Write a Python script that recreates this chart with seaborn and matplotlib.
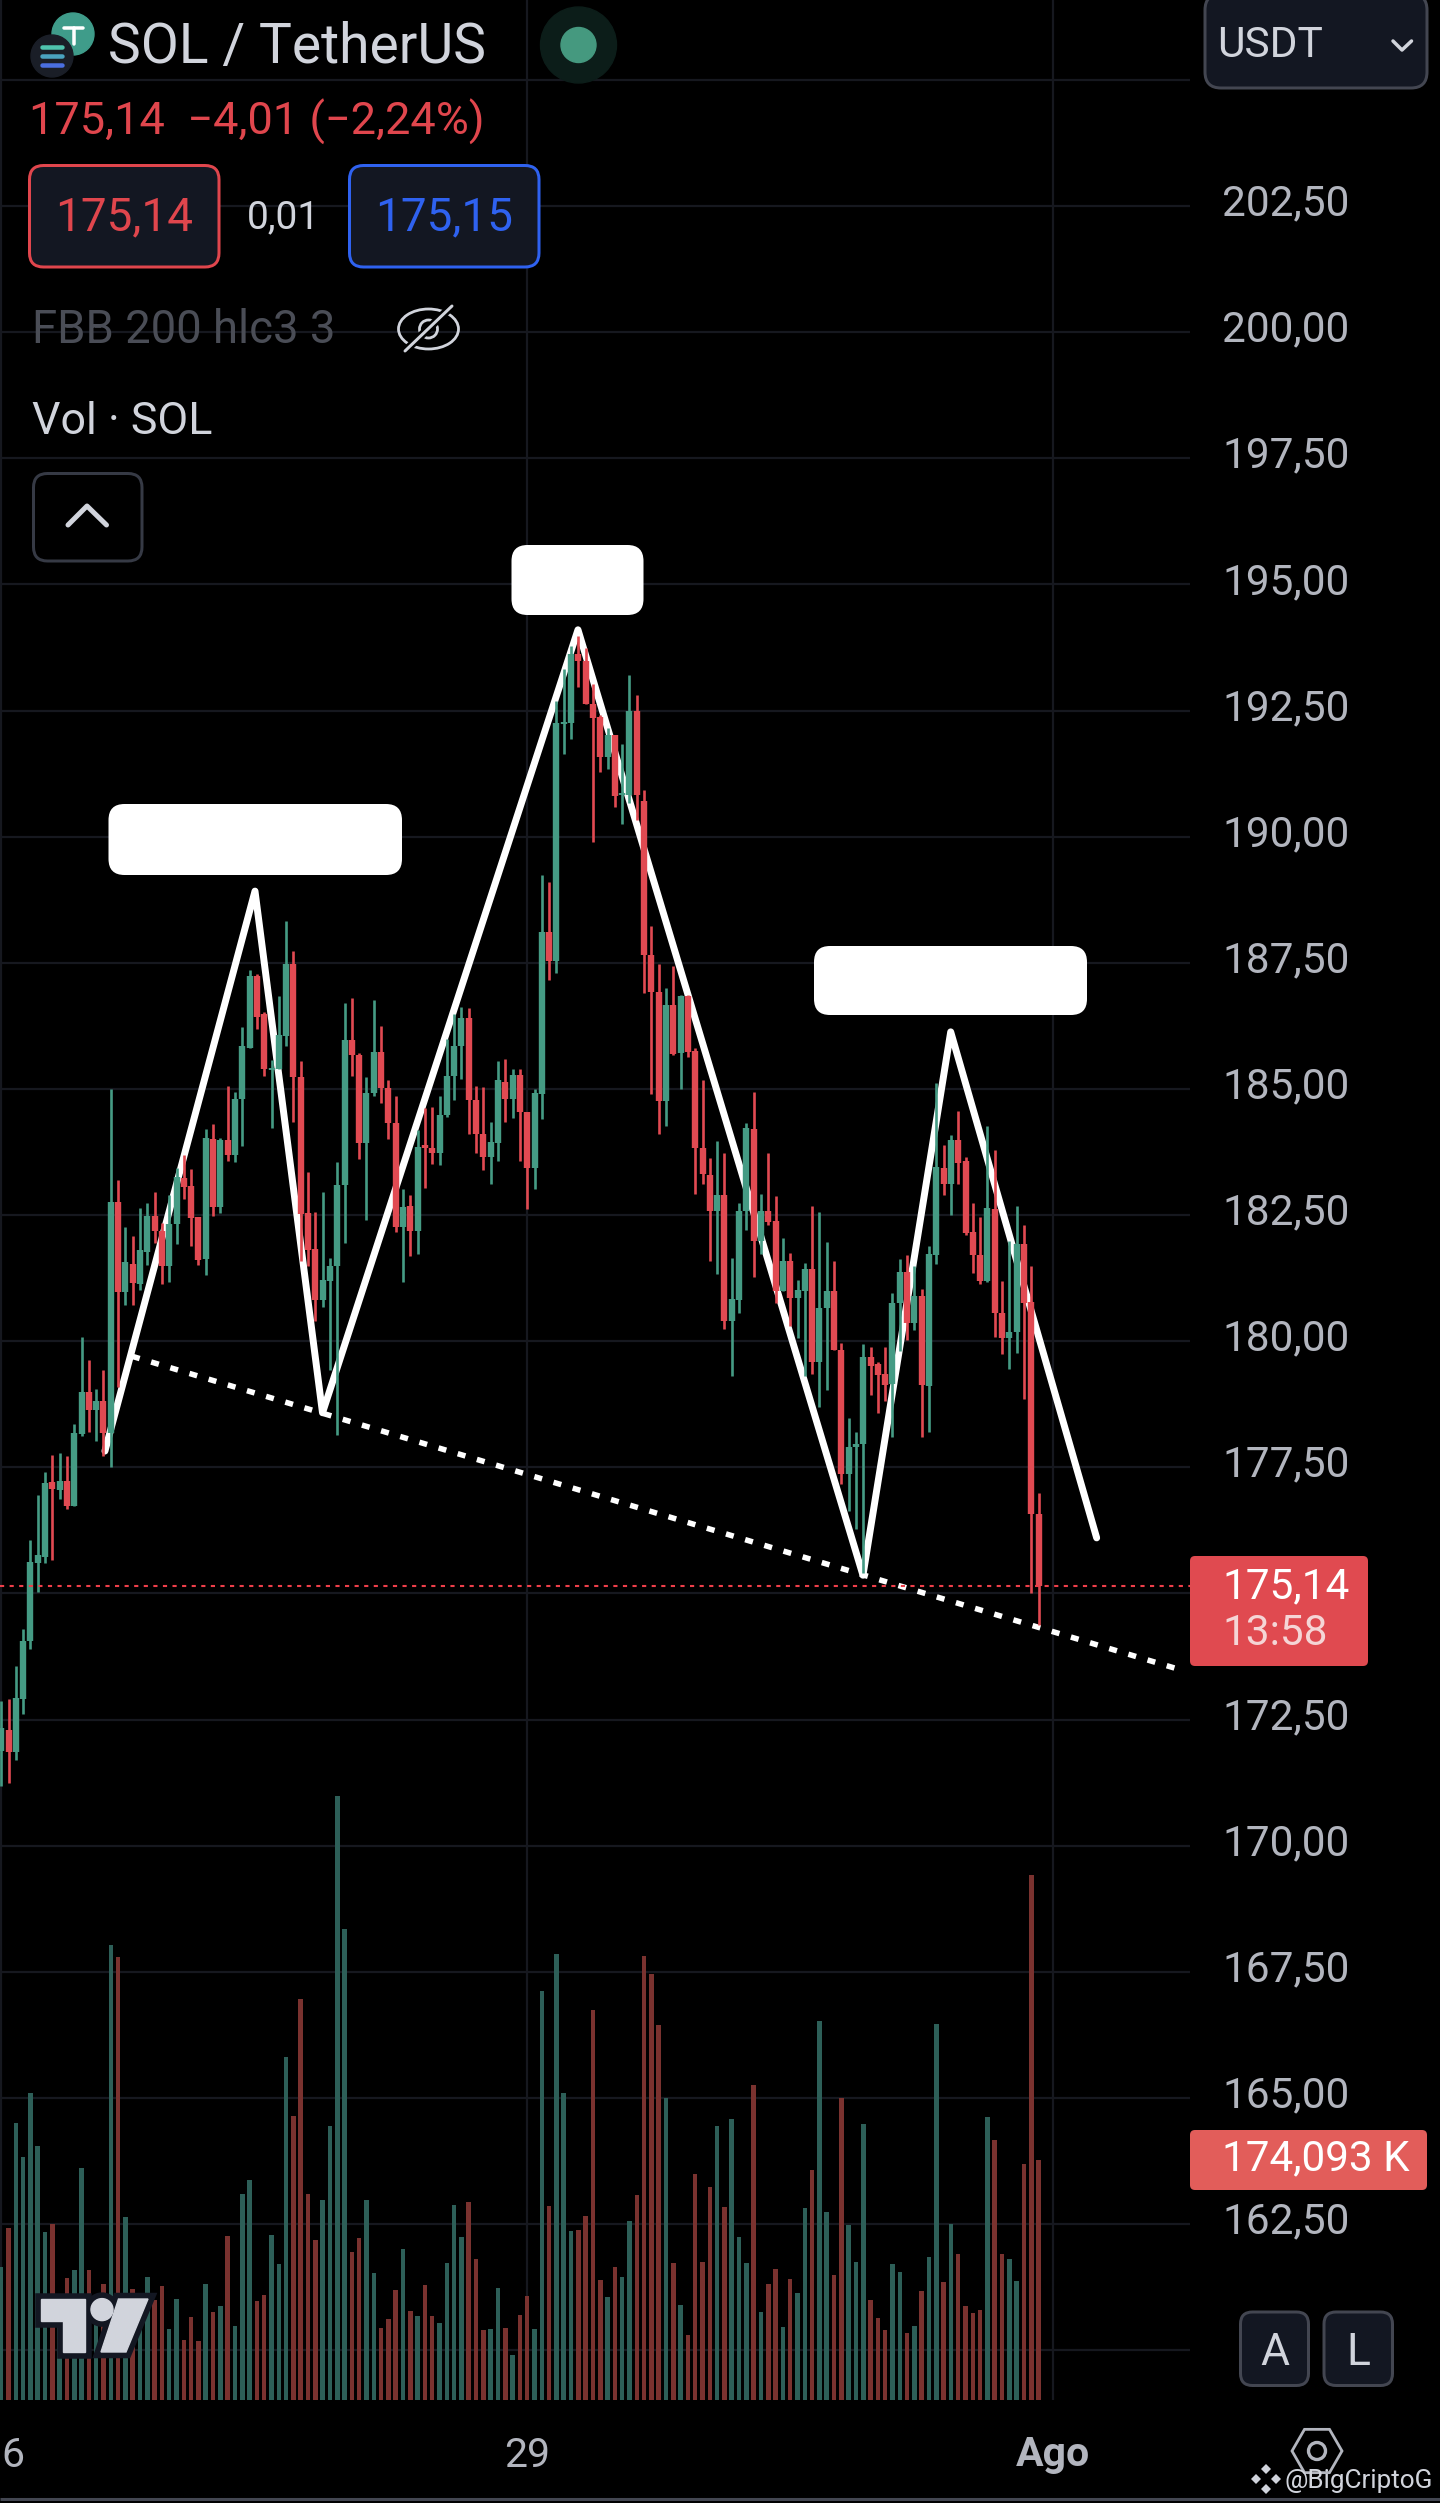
"""SOL / TetherUS 1h candles with volume, head and shoulders sketch on top."""
import matplotlib
matplotlib.use("Agg")
import matplotlib.pyplot as plt
import numpy as np
import pandas as pd
import seaborn as sns
from matplotlib.patches import Circle, Ellipse, FancyBboxPatch, Polygon, RegularPolygon
from matplotlib.transforms import ScaledTranslation

# candles, one per hour, index 0 sits on the "29" tick
bar_index = list(range(-72, 71))
opens = [
    171.87, 172.30, 171.85, 172.90, 174.06, 175.60, 175.72, 177.20, 177.05, 177.23, 176.74,
    178.16, 179.00, 178.64, 178.81, 178.18, 182.75, 180.97, 181.53, 181.14, 181.76, 182.48,
    182.19, 181.48, 182.33, 183.24, 183.07, 182.47, 181.63, 184.01, 182.65, 183.98, 183.69,
    184.80, 185.82, 187.24, 186.48, 185.37, 185.40, 186.05, 187.48, 185.23, 182.53, 181.82,
    180.82, 181.19, 181.48, 183.10, 185.97, 185.68, 183.92, 184.91, 185.74, 185.02, 184.32,
    182.27, 182.67, 182.18, 183.88, 183.82, 183.72, 184.49, 185.26, 185.85, 186.40, 184.77,
    184.11, 183.64, 183.92, 185.14, 184.80, 185.28, 184.55, 183.43, 184.90, 188.10, 187.53,
    192.24, 192.25, 193.62, 193.49, 192.62, 192.37, 191.58, 192.02, 190.82, 190.83, 192.49,
    190.70, 187.66, 186.93, 184.75, 186.66, 185.71, 186.84, 185.75, 183.83, 183.30, 182.57,
    182.90, 180.40, 180.81, 182.57, 184.20, 181.99, 182.57, 182.39, 181.00, 181.59, 180.86,
    181.00, 181.42, 179.58, 180.66, 181.00, 179.82, 177.36, 177.90, 177.96, 179.69, 179.54,
    179.34, 179.16, 180.75, 181.37, 180.35, 180.90, 179.12, 181.71, 183.43, 183.12, 183.98,
    183.57, 182.17, 181.71, 181.19, 182.61, 180.56, 180.07, 180.18, 181.93, 180.78, 176.58,
]
highs = [
    172.86, 172.90, 173.56, 174.30, 176.05, 176.95, 177.41, 177.75, 177.78, 177.73, 178.35,
    180.08, 179.62, 179.06, 179.43, 185.00, 183.20, 182.27, 182.08, 182.64, 182.73, 182.95,
    182.35, 182.90, 183.43, 183.69, 183.41, 182.47, 184.20, 184.30, 184.03, 185.06, 184.94,
    186.22, 187.36, 187.27, 186.53, 185.57, 186.85, 188.33, 187.73, 185.55, 183.35, 182.56,
    182.95, 181.65, 183.56, 186.70, 186.80, 185.72, 185.23, 186.76, 186.25, 185.17, 184.86,
    183.01, 182.90, 184.18, 184.63, 184.64, 184.86, 185.99, 186.48, 186.63, 186.61, 185.06,
    185.03, 184.34, 185.55, 185.59, 185.40, 185.40, 184.55, 185.00, 189.23, 189.10, 192.68,
    193.33, 193.77, 193.97, 193.73, 193.02, 192.41, 192.16, 192.02, 191.84, 193.21, 192.80,
    190.92, 188.23, 187.48, 187.00, 187.44, 186.86, 186.86, 185.82, 185.18, 183.63, 183.96,
    183.72, 181.64, 182.74, 184.32, 184.94, 182.92, 183.73, 182.88, 182.05, 181.75, 181.21,
    181.55, 182.67, 182.55, 181.97, 181.59, 179.97, 178.47, 178.19, 179.94, 179.89, 179.58,
    179.89, 180.95, 181.62, 181.71, 181.49, 181.04, 181.88, 185.11, 183.89, 184.09, 184.56,
    183.65, 182.74, 182.46, 184.27, 183.79, 181.19, 181.99, 182.68, 182.30, 181.49, 176.99,
]
lows = [
    171.19, 171.25, 171.70, 172.61, 173.89, 175.03, 175.60, 175.66, 176.88, 176.68, 176.74,
    178.11, 178.20, 178.03, 177.73, 177.50, 179.09, 180.72, 180.72, 181.02, 181.50, 181.95,
    181.14, 181.17, 181.93, 182.82, 181.88, 181.50, 181.31, 182.48, 182.53, 183.58, 183.55,
    183.86, 185.82, 186.19, 185.25, 184.23, 185.40, 185.85, 184.34, 181.59, 181.48, 180.40,
    180.68, 179.43, 178.13, 181.95, 185.26, 183.61, 182.41, 184.86, 184.72, 184.00, 182.16,
    181.18, 181.68, 181.73, 183.03, 183.52, 183.50, 184.45, 184.77, 185.20, 184.11, 183.72,
    183.39, 183.12, 183.58, 184.35, 184.43, 183.58, 182.61, 183.01, 184.41, 187.15, 187.30,
    191.64, 191.93, 192.97, 192.62, 189.89, 191.29, 191.35, 190.58, 190.26, 190.67, 190.32,
    186.91, 184.89, 184.10, 184.27, 185.67, 185.00, 185.64, 182.92, 183.11, 181.59, 181.33,
    180.25, 179.31, 180.56, 182.21, 181.27, 181.73, 182.30, 180.75, 181.00, 180.29, 180.07,
    179.31, 179.34, 178.70, 179.04, 179.82, 177.17, 176.64, 176.28, 175.40, 178.94, 178.58,
    178.82, 178.10, 179.81, 180.02, 180.22, 178.10, 178.20, 181.52, 182.89, 182.50, 183.12,
    182.10, 181.35, 181.13, 181.18, 180.09, 179.75, 179.45, 179.76, 178.85, 175.00, 174.38,
]
closes = [
    172.33, 171.85, 172.92, 174.06, 175.62, 175.76, 177.18, 177.07, 177.23, 176.73, 178.18,
    179.00, 178.64, 178.81, 178.18, 182.75, 180.97, 181.56, 181.16, 181.80, 182.48, 182.19,
    181.48, 182.33, 183.26, 183.05, 182.44, 181.61, 184.03, 182.65, 183.98, 183.69, 184.80,
    185.85, 187.24, 186.42, 185.40, 185.42, 186.06, 187.48, 185.23, 182.52, 181.80, 180.82,
    181.22, 181.48, 183.10, 185.97, 185.68, 183.92, 184.91, 185.74, 185.02, 184.32, 182.27,
    182.65, 182.18, 183.84, 183.83, 183.72, 184.49, 185.26, 185.85, 186.40, 184.77, 184.11,
    183.64, 183.94, 185.17, 184.80, 185.28, 184.55, 183.43, 184.91, 188.10, 187.53, 192.26,
    192.28, 193.62, 193.49, 192.62, 192.35, 191.58, 192.02, 190.80, 190.86, 192.49, 190.83,
    187.66, 186.93, 184.75, 186.66, 185.69, 186.84, 185.73, 183.82, 183.32, 182.57, 182.90,
    180.40, 180.84, 182.58, 184.23, 181.99, 182.57, 182.37, 181.00, 181.59, 180.86, 181.02,
    181.42, 179.58, 180.66, 181.00, 179.82, 177.36, 177.90, 177.96, 179.69, 179.51, 179.32,
    179.14, 180.75, 181.37, 180.35, 180.90, 179.14, 181.73, 183.45, 183.12, 183.98, 183.54,
    182.15, 181.71, 181.19, 182.63, 180.56, 180.07, 180.18, 181.93, 180.75, 176.57, 175.14,
]
# thousands of SOL, the last one is the 174,093 K of the label
volumes = [
    96.3, 124.7, 200.9, 176.3, 222.6, 184.1, 121.9, 127.5, 61.4, 88.4, 94.3,
    168.2, 94.3, 55.8, 84.3, 330.1, 321.4, 132.5, 80.4, 75.3, 89.3, 72.5,
    82.6, 51.6, 73.4, 43.8, 60.5, 42.7, 84.3, 63.9, 68.4, 119.1, 53.8,
    149.5, 159.9, 71.7, 76.2, 120.0, 98.5, 248.9, 205.9, 291.0, 149.5, 116.1,
    145.1, 198.9, 438.0, 341.8, 107.4, 117.2, 145.1, 92.1, 52.2, 58.6, 80.1,
    109.4, 64.7, 60.8, 83.7, 61.1, 55.8, 99.6, 141.5, 118.3, 143.7, 102.4,
    50.8, 51.6, 81.5, 52.2, 32.6, 61.9, 75.6, 51.6, 296.6, 140.6, 323.6,
    222.4, 122.8, 123.6, 133.4, 282.9, 87.0, 74.8, 96.8, 89.3, 129.5, 148.7,
    322.0, 309.1, 272.0, 219.0, 99.6, 69.2, 47.2, 164.1, 100.2, 154.6, 198.9,
    140.1, 203.7, 118.3, 99.3, 228.5, 63.9, 84.3, 94.9, 53.0, 87.6, 77.8,
    139.5, 166.8, 274.8, 136.4, 90.7, 219.0, 126.9, 100.4, 200.3, 72.5, 59.4,
    50.8, 98.5, 92.9, 48.5, 53.8, 79.0, 103.8, 272.9, 85.7, 127.5, 105.7,
    68.4, 63.1, 65.3, 205.3, 188.6, 105.7, 102.1, 86.2, 171.3, 380.8, 174.093,
]

# hand drawn pattern, in bar index / price
zigzag_bar = [-57.8, -37.26, -28.02, 6.95, 45.96, 57.97, 77.95]
zigzag_price = [177.82, 188.92, 178.58, 194.10, 175.36, 186.13, 176.10]
neckline_bar = [-54.1, 90.0]
neckline_price = [179.70, 173.46]

last_price = 175.14
price_ticks = [160 + 2.5 * n for n in range(19)]
price_labels = ["", "162,50", "165,00", "167,50", "170,00", "172,50", "", "177,50", "180,00",
                "182,50", "185,00", "187,50", "190,00", "192,50", "195,00", "197,50",
                "200,00", "202,50", ""]
date_ticks = [-72, 0, 72]
date_labels = ["6", "29", "Ago"]

UP = "#459b84"
DOWN = "#e14a52"
VOL_UP = "#2d5f58"
VOL_DOWN = "#7a322f"
TEXT = "#d1d4dc"
AXIS_TEXT = "#b2b5be"
PANEL = "#131722"
BORDER = "#434651"
GRID = "#16181f"

W, H = 1440, 2503
PLOT_R, PLOT_B = 1190, 2400

sns.set_theme(style="dark", rc={"axes.grid": False})
plt.rcParams["font.family"] = ["Roboto", "DejaVu Sans"]
plt.rcParams["lines.solid_capstyle"] = "butt"
plt.rcParams["axes.unicode_minus"] = False

df = pd.DataFrame({"bar": bar_index, "open": opens, "high": highs, "low": lows,
                   "close": closes, "volume": volumes})
df["dir"] = np.where(df["close"] >= df["open"], "up", "down")
palette = {"up": UP, "down": DOWN}
vol_palette = {"up": VOL_UP, "down": VOL_DOWN}

wicks = df.melt(id_vars=["bar", "dir"], value_vars=["low", "high"], value_name="price")
bodies = df.melt(id_vars=["bar", "dir"], value_vars=["open", "close"], value_name="price")

fig = plt.figure(figsize=(W / 100, H / 100), dpi=100, facecolor="black")
rect = [0, 1 - PLOT_B / H, PLOT_R / W, PLOT_B / H]

ax = fig.add_axes(rect, zorder=1, facecolor="black")
ax_vol = fig.add_axes(rect, zorder=2, facecolor="none", sharex=ax)

xlim = ((0 - 527.2) / 7.3056, (PLOT_R - 527.2) / 7.3056)

# volume pane: 240 px of bar is the 174,093 K of the last hour
sns.barplot(data=df, x="bar", y="volume", hue="dir", palette=vol_palette, native_scale=True,
            dodge=False, width=0.62, saturation=1, errorbar=None, legend=False,
            linewidth=0, ax=ax_vol)
ax_vol.set_ylim(0, PLOT_B * 174.093 / 240)
ax_vol.set_yticks([])
ax_vol.set_xlabel("")
ax_vol.set_ylabel("")
ax_vol.tick_params(labelbottom=False, length=0)
for s in ax_vol.spines.values():
    s.set_visible(False)

# the sketch goes under the candles
sns.lineplot(x=zigzag_bar, y=zigzag_price, sort=False, color="white", lw=5.0,
             solid_capstyle="round", solid_joinstyle="round", zorder=2, ax=ax)
sns.lineplot(x=neckline_bar, y=neckline_price, sort=False, color="white", lw=4.0,
             linestyle=(0, (1.45, 2.15)), zorder=2, ax=ax)

sns.lineplot(data=wicks, x="bar", y="price", units="bar", estimator=None, hue="dir",
             palette=palette, lw=1.9, sort=False, legend=False, zorder=3, ax=ax)
sns.lineplot(data=bodies, x="bar", y="price", units="bar", estimator=None, hue="dir",
             palette=palette, lw=4.6, sort=False, legend=False, zorder=3, ax=ax)

ax.axhline(last_price, color="#ee3f4a", lw=1.5, linestyle=(0, (2.0, 2.6)), zorder=3)

ax.set_xlim(*xlim)
ax.set_ylim(202.5 - (PLOT_B - 206) / 50.45, 202.5 + 206 / 50.45)
ax.set_xlabel("")
ax.set_ylabel("")
ax.yaxis.tick_right()
ax.set_yticks(price_ticks, price_labels)
ax.set_xticks(date_ticks, date_labels)
ax.tick_params(axis="y", length=0, pad=23, labelsize=30.5, labelcolor=AXIS_TEXT,
               labelright=True, labelleft=False)
ax.tick_params(axis="x", length=0, pad=25.8, labelsize=29.5, labelcolor=AXIS_TEXT, labelbottom=True)
ax.get_xticklabels()[0].set_ha("left")
ax.get_xticklabels()[2].set_fontweight("bold")
# price labels sit a little above their grid lines
lift = ScaledTranslation(0, 6.5 / 100, fig.dpi_scale_trans)
for tick in ax.yaxis.get_major_ticks():
    tick.label2.set_transform(tick.label2.get_transform() + lift)
ax.grid(True, color=GRID, lw=1.6, zorder=0)
ax.set_axisbelow(True)
for s in ax.spines.values():
    s.set_visible(False)

# everything else is the app's chrome, placed in screen pixels
ui = fig.add_axes([0, 0, 1, 1], zorder=3, facecolor="none")
ui.set_xlim(0, W)
ui.set_ylim(H, 0)
ui.axis("off")


def box(x0, y0, x1, y1, face, edge=None, lw=0.0, r=14):
    ui.add_patch(FancyBboxPatch((x0, y0), x1 - x0, y1 - y0,
                                boxstyle=f"round,pad=0,rounding_size={r}",
                                facecolor=face, edgecolor=edge or face, linewidth=lw * 0.72))


def label(x, y, s, size, color=TEXT, ha="left", **kw):
    ui.text(x, y, s, fontsize=size, color=color, ha=ha, va="baseline", **kw)


def stroke(xs, ys, color=TEXT, lw=3.0):
    ui.plot(xs, ys, color=color, lw=lw * 0.72, solid_capstyle="round", solid_joinstyle="round")


# header
ui.add_patch(Circle((73, 34), 21, color="#3f9c8a"))
stroke([64, 83], [28, 28], "white", 3.5)
stroke([74, 74], [28, 44], "white", 3.5)
ui.add_patch(Circle((52, 56), 21, color="#1a1e27"))
for yy, col in [(47, "#4fc3ad"), (56, "#4aa3c0"), (65, "#4a6fe0")]:
    stroke([42, 62], [yy, yy], col, 4.5)
label(108.5, 63, "SOL / TetherUS", 39.8)
ui.add_patch(Ellipse((578.5, 45), 76, 76, color="#0c1d19"))
ui.add_patch(Circle((578.5, 45), 17.5, color="#45997f"))
label(29, 134.5, "175,14  −4,01 (−2,24%)", 32.5, "#e0464d")

box(29.5, 165.5, 219, 267, PANEL, "#e0464d", 3)
label(124, 230, "175,14", 33, "#e0464d", ha="center")
label(283, 228.5, "0,01", 28, TEXT, ha="center")
box(349.5, 165.5, 539, 267, PANEL, "#2f62f0", 3)
label(444, 230, "175,15", 33, "#2f62f0", ha="center")

label(32, 343, "FBB 200 hlc3 3", 32.8, "#4a4d56")
ui.add_patch(Ellipse((428.5, 329), 60, 40, fill=False, ec=TEXT, lw=2))
ui.add_patch(Circle((428.5, 329), 9, fill=False, ec=TEXT, lw=2))
stroke([405, 452], [351, 306], "black", 8)
stroke([405, 452], [351, 306], TEXT, 3)
label(32, 433.5, "Vol · SOL", 32.2)
box(33.5, 473.5, 142, 561, "black", "#363a45", 3)
stroke([68, 87, 106.5], [525, 506, 525], TEXT, 5)

# hidden captions over the three peaks
box(108.5, 804, 402, 875, "white", r=16)
box(511.5, 545, 643.5, 615, "white", r=16)
box(814, 946, 1087, 1015, "white", r=16)

# right column
box(1205, -6, 1427, 88, PANEL, BORDER, 3, r=16)
label(1217, 57, "USDT", 30.5)
stroke([1393, 1402, 1411.5], [41, 50, 41], TEXT, 3.5)

box(PLOT_R, 1556, 1368, 1666, "#e04a50", r=5)
label(1222, 1598, "175,14", 30.5, "white")
label(1222, 1645, "13:58", 30.5, "#f5d5d6")
box(PLOT_R, 2130, 1427, 2190, "#e25d5a", r=5)
label(1222.5, 2170, "174,093 K", 30.3, "white")

box(1240.5, 2312, 1308.5, 2385.5, PANEL, BORDER, 3, r=12)
label(1274.5, 2365, "A", 32, ha="center")
box(1324, 2312, 1392.5, 2385.5, PANEL, BORDER, 3, r=12)
label(1358, 2365, "L", 32, ha="center")

# TradingView mark
tv_kw = dict(facecolor=TEXT, edgecolor=PANEL, linewidth=9, joinstyle="miter")
for pts in ([(41, 2299), (85, 2299), (85, 2352), (63, 2352), (63, 2320.5), (41, 2320.5)],
            [(118.5, 2299), (148, 2299), (126, 2352), (101, 2352)]):
    ui.add_patch(Polygon(pts, closed=True, **tv_kw))
ui.add_patch(Circle((102, 2309.6), 11, **{k: v for k, v in tv_kw.items() if k != "joinstyle"}))
ui.add_patch(Polygon([(41, 2299), (85, 2299), (85, 2352), (63, 2352), (63, 2320.5), (41, 2320.5)],
                     closed=True, color=TEXT))
ui.add_patch(Polygon([(118.5, 2299), (148, 2299), (126, 2352), (101, 2352)], closed=True, color=TEXT))
ui.add_patch(Circle((102, 2309.6), 11, color=TEXT))

# settings hexagon and watermark
ui.add_patch(RegularPolygon((1317, 2451), 6, radius=25, orientation=np.pi / 6, fill=False,
                            ec=AXIS_TEXT, lw=2))
ui.add_patch(Circle((1317, 2451), 8.5, fill=False, ec=AXIS_TEXT, lw=2.4))
for dx, dy, ms in [(0, -10, 5), (-10, 0, 5), (10, 0, 5), (0, 10, 5)]:
    ui.plot(1266 + dx, 2479 + dy, marker="D", ms=ms, color=TEXT, mew=0)
label(1284, 2488, "@BigCriptoG", 18.8)
ui.plot([0, W], [2498.5, 2498.5], color=BORDER, lw=2.2)

fig.savefig("out.png", dpi=100, facecolor="black")
